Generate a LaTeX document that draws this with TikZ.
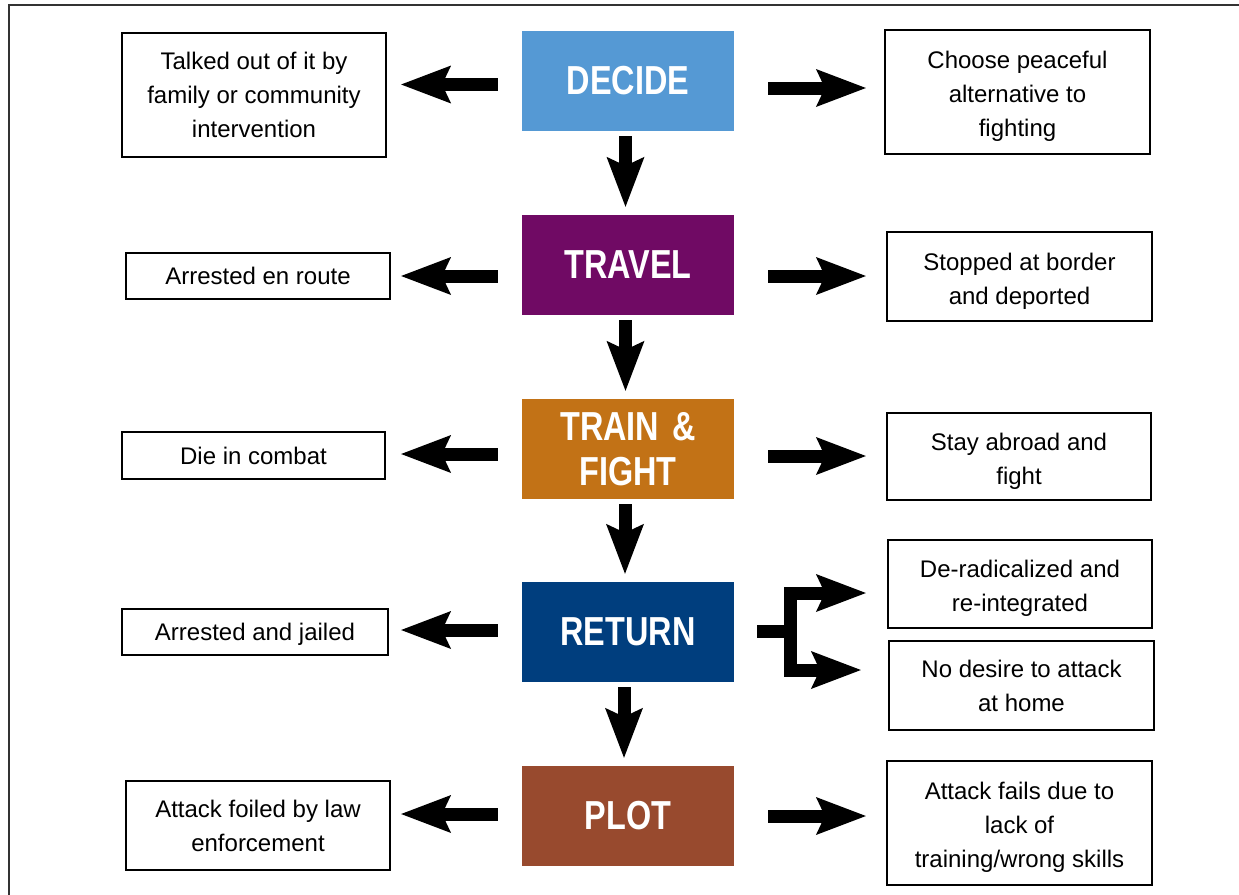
\documentclass[tikz,border=0pt]{standalone}
\usepackage{fontspec}
\setmainfont{Liberation Sans}
\newfontfamily\titlefont[FakeStretch=0.8]{Liberation Sans Bold}
\usetikzlibrary{arrows.meta}
\definecolor{cdecide}{RGB}{85,153,212}
\definecolor{ctravel}{RGB}{112,10,100}
\definecolor{ctrain}{RGB}{194,114,22}
\definecolor{creturn}{RGB}{0,62,126}
\definecolor{cplot}{RGB}{152,74,46}
\newcommand{\dn}{\rule{0pt}{26pt}}
\begin{document}
\begin{tikzpicture}[x=1pt,y=-1pt,
  stage/.style={minimum width=212pt,minimum height=100pt,inner sep=0pt,
    text=white,align=center,font=\titlefont\fontsize{40.5}{45}\selectfont},
  outcome/.style={draw=black,line width=2.2pt,inner sep=0pt,align=center,
    font=\fontsize{24}{34}\selectfont},
  bigarrow/.style={line width=13pt,line cap=butt,
    -{Stealth[length=50pt,width=38pt,inset=9pt,line width=0pt]}},
  fat/.style={line width=13pt,line cap=butt}]
\useasboundingbox (0,0) rectangle (1239,894);
\fill[white] (0,0) rectangle (1239,894);
\draw[line width=1.5pt,black!80] (9,910) -- (9,5) -- (1250,5);
% stages
\node[stage,fill=cdecide] (decide) at (628,81) {DECIDE};
\node[stage,fill=ctravel] (travel) at (628,265) {TRAVEL};
\node[stage,fill=ctrain] (train) at (628,449) {TRAIN\hspace{13pt}\&\\FIGHT};
\node[stage,fill=creturn] (return) at (628,632) {RETURN};
\node[stage,fill=cplot] (plot) at (628,816) {PLOT};
% left outcomes
\node[outcome,minimum width=264pt,minimum height=124pt] (talked) at (254,95) {Talked out of it by\\family or community\\intervention};
\node[outcome,minimum width=264pt,minimum height=46pt] (arrested) at (258,276) {Arrested en route};
\node[outcome,minimum width=263pt,minimum height=47pt] (die) at (253.5,455.5) {Die in combat};
\node[outcome,minimum width=266pt,minimum height=46pt] (jailed) at (255,632) {\rule{0pt}{21pt}Arrested and jailed};
\node[outcome,minimum width=264pt,minimum height=89pt] (foiled) at (258,825.5) {Attack foiled by law\\enforcement};
% right outcomes
\node[outcome,minimum width=265pt,minimum height=124pt] (choose) at (1017.5,92) {\dn Choose peaceful\\alternative to\\fighting};
\node[outcome,minimum width=265pt,minimum height=89pt] (stopped) at (1019.5,276.5) {\dn Stopped at border\\and deported};
\node[outcome,minimum width=264pt,minimum height=87pt] (stay) at (1019,456.5) {\dn Stay abroad and\\fight};
\node[outcome,minimum width=264pt,minimum height=88pt] (dr) at (1020,584) {\dn De-radicalized and\\re-integrated};
\node[outcome,minimum width=265pt,minimum height=89pt] (nd) at (1021.5,685.5) {No desire to attack\\at home};
\node[outcome,minimum width=265pt,minimum height=124pt] (fails) at (1019.5,823) {\dn Attack fails due to\\lack of\\training/wrong skills};
% vertical arrows
\draw[bigarrow] ([shift={(-2.5,5)}]decide.south) -- ([shift={(-2.5,-8)}]travel.north);
\draw[bigarrow] ([shift={(-2.5,5)}]travel.south) -- ([shift={(-2.5,-8)}]train.north);
\draw[bigarrow] ([shift={(-3,5)}]train.south) -- ([shift={(-3,-8)}]return.north);
\draw[bigarrow] ([shift={(-4,5)}]return.south) -- ([shift={(-4,-8)}]plot.north);
% left arrows
\draw[bigarrow] ([shift={(-24,3.5)}]decide.west) -- ([shift={(14,-10.5)}]talked.east);
\draw[bigarrow] ([shift={(-24,11)}]travel.west) -- ([shift={(10,0)}]arrested.east);
\draw[bigarrow] ([shift={(-24,5)}]train.west) -- ([shift={(15,-1.5)}]die.east);
\draw[bigarrow] ([shift={(-24,-2)}]return.west) -- ([shift={(12,-2)}]jailed.east);
\draw[bigarrow] ([shift={(-24,-2)}]plot.west) -- ([shift={(10,-11.5)}]foiled.east);
% right arrows
\draw[bigarrow] ([shift={(34,7)}]decide.east) -- ([shift={(-18,-4)}]choose.west);
\draw[bigarrow] ([shift={(34,11)}]travel.east) -- ([shift={(-20,-0.5)}]stopped.west);
\draw[bigarrow] ([shift={(34,7)}]train.east) -- ([shift={(-20,-0.5)}]stay.west);
\draw[bigarrow] ([shift={(34,0)}]plot.east) -- ([shift={(-20,-7)}]fails.west);
% fork
\draw[fat] ([shift={(23,-1)}]return.east) -- ++(33,0) coordinate (fork);
\draw[bigarrow,line join=miter] (fork) |- ([shift={(-21,9)}]dr.west);
\draw[bigarrow,line join=miter] (fork) |- ([shift={(-27,-15.5)}]nd.west);
\end{tikzpicture}
\end{document}
